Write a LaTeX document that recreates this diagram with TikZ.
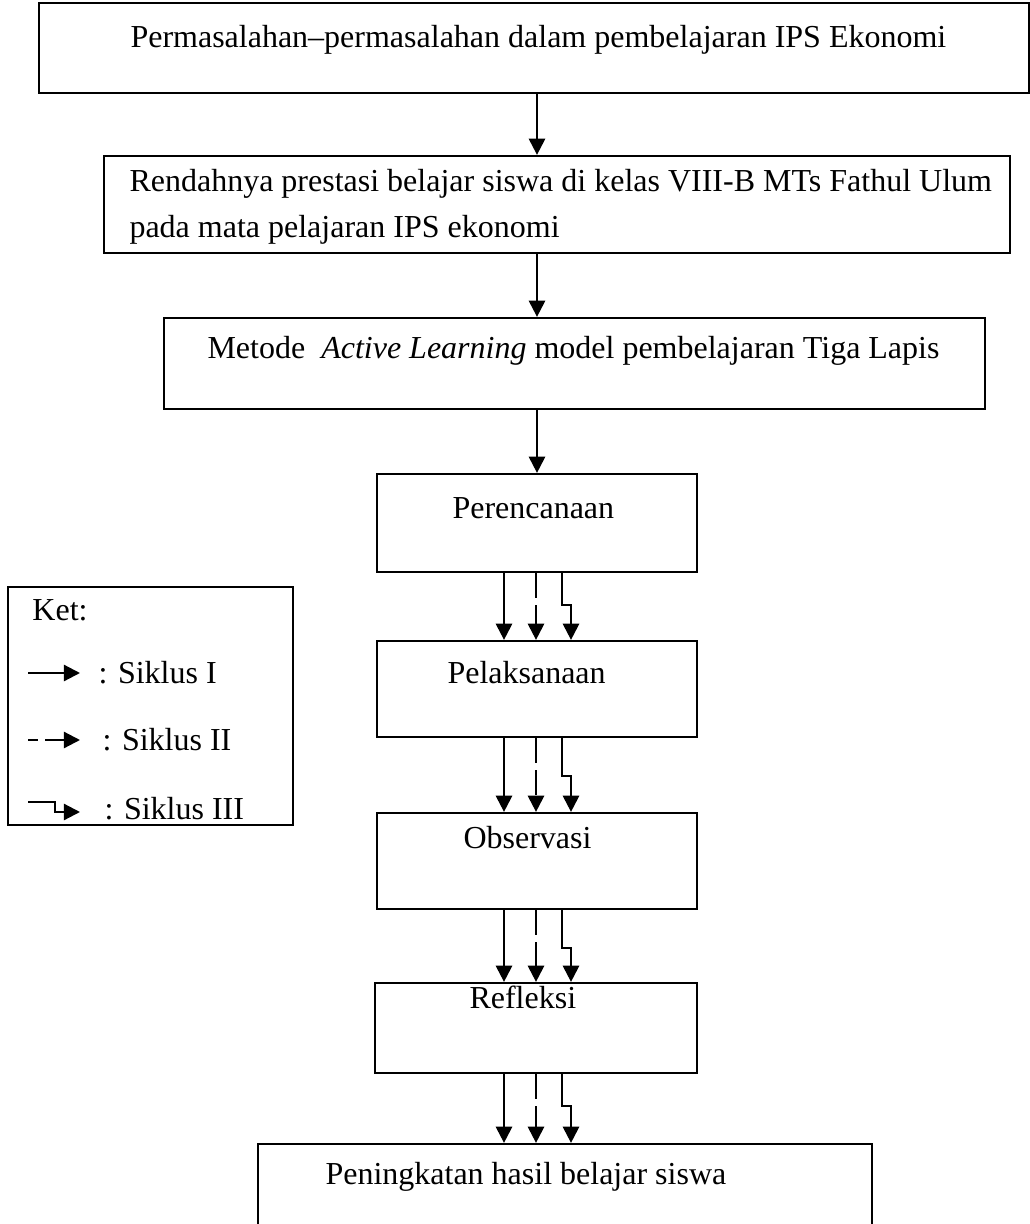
\documentclass[tikz,border=0pt]{standalone}
\usepackage{fontspec}
\setmainfont{Liberation Serif}
\usetikzlibrary{arrows.meta,fit}

\tikzset{
  box/.style={draw, line width=0.9pt, inner sep=0pt},
  txt/.style={anchor=base west, inner sep=0pt},
  cyc/.style={line width=0.9pt, -{Triangle[width=6.5pt,length=6.5pt]}},
  cycdash/.style={cyc, dash pattern=on 10pt off 2.8pt},
  legdash/.style={cyc, dash pattern=on 4pt off 2.8pt on 20pt off 0pt}
}

\begin{document}
\begin{tikzpicture}[x=0.4pt, y=-0.4pt, font=\fontsize{12.8}{15}\selectfont]
			\useasboundingbox (0,0) rectangle (1030,1224);
			% boxes
			\node[box, fit={(39,3) (1029,93)}] (b1) {};
			\node[box, fit={(104,156) (1010,253)}] (b2) {};
			\node[box, fit={(164,318) (985,409)}] (b3) {};
			\node[box, fit={(377,474) (697,572)}] (b4) {};
			\node[box, fit={(377,641) (697,737)}] (b5) {};
			\node[box, fit={(377,813) (697,909)}] (b6) {};
			\node[box, fit={(375,983) (697,1073)}] (b7) {};
			\node[box, fit={(258,1144) (872,1260)}] (b8) {};
			\node[box, fit={(8,587) (293,825)}] (ket) {};
			% texts
			\node[txt] (t1) at (130,48) {Permasalahan–permasalahan dalam pembelajaran IPS Ekonomi};
			\node[txt] (t2a) at (129,192) {Rendahnya prestasi belajar siswa di kelas VIII-B MTs Fathul Ulum};
			\node[txt] (t2b) at (129,238) {pada mata pelajaran IPS ekonomi};
			\node[txt] (t3) at (207,359) {Metode \ \textit{Active Learning} model pembelajaran Tiga Lapis};
			\node[txt] (t4) at (452,518) {Perencanaan};
			\node[txt] (t5) at (447,683) {Pelaksanaan};
			\node[txt] (t6) at (463,848) {Observasi};
			\node[txt] (t7) at (469,1008) {Refleksi};
			\node[txt] (t8) at (325,1184) {Peningkatan hasil belajar siswa};
			% columns
			\coordinate (mid) at (537,0);
			\coordinate (colI) at (504,0);
			\coordinate (colII) at (536,0);
			\coordinate (colIIIa) at (562,0);
			\coordinate (colIIIb) at (571,0);
			% single arrows
			\draw[cyc] (b1.south -| mid) -- (b2.north -| mid);
			\draw[cyc] (b2.south -| mid) -- (b3.north -| mid);
			\draw[cyc] (b3.south -| mid) -- (b4.north -| mid);
			% siklus arrows
			\draw[cyc] (b4.south -| colI) -- (b5.north -| colI);
			\draw[cycdash] (b4.south -| colII) -- (b5.north -| colII);
			\draw[cyc] (b4.south -| colIIIa) -- ++(0,32) -| (b5.north -| colIIIb);
			\draw[cyc] (b5.south -| colI) -- (b6.north -| colI);
			\draw[cycdash] (b5.south -| colII) -- (b6.north -| colII);
			\draw[cyc] (b5.south -| colIIIa) -- ++(0,38) -| (b6.north -| colIIIb);
			\draw[cyc] (b6.south -| colI) -- (b7.north -| colI);
			\draw[cycdash] (b6.south -| colII) -- (b7.north -| colII);
			\draw[cyc] (b6.south -| colIIIa) -- ++(0,38) -| (b7.north -| colIIIb);
			\draw[cyc] (b7.south -| colI) -- (b8.north -| colI);
			\draw[cycdash] (b7.south -| colII) -- (b8.north -| colII);
			\draw[cyc] (b7.south -| colIIIa) -- ++(0,32) -| (b8.north -| colIIIb);
			% legend
			\node[txt] (k0) at (32,620) {Ket:};
			\coordinate (l1a) at (28,673);
			\coordinate (l1b) at (80,673);
			\coordinate (l2a) at (28,740);
			\coordinate (l2b) at (80,740);
			\coordinate (l3a) at (28,802);
			\coordinate (l3b) at (80,812);
			\draw[cyc] (l1a) -- (l1b);
			\draw[legdash] (l2a) -- (l2b);
			\draw[cyc] (l3a) -- (55,802) |- (l3b);
			\node[txt] (k1) at (98,683) {: Siklus I};
			\node[txt] (k2) at (102,750) {: Siklus II};
			\node[txt] (k3) at (104,819) {: Siklus III};
		\end{tikzpicture}
\end{document}
